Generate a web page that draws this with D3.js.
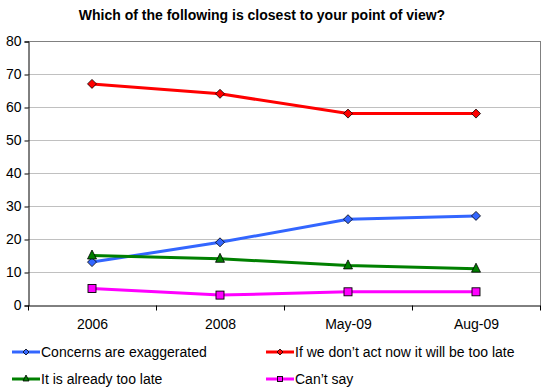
<!DOCTYPE html>
<html><head><meta charset="utf-8">
<script src="https://cdn.jsdelivr.net/npm/d3@7"></script>
<style>body{margin:0;background:#fff}svg text{font-family:Arial,"Liberation Sans",sans-serif}</style>
</head><body><svg id="c" width="547" height="390"></svg>
<script>
const categories = ["2006","2008","May-09","Aug-09"];
const concerns = [13,19,26,27];
const actNow = [67,64,58,58];
const tooLate = [15,14,12,11];
const cantSay = [5,3,4,4];
const yTicks = [0,10,20,30,40,50,60,70,80];
const seriesNames = ["Concerns are exaggerated","If we don\u2019t act now it will be too late","It is already too late","Can\u2019t say"];

const series = [
  {name:seriesNames[0], values:concerns, color:"#3366FF", marker:"diamond", mfill:"#3366FF"},
  {name:seriesNames[1], values:actNow, color:"#FF0000", marker:"diamond", mfill:"#FF0000"},
  {name:seriesNames[2], values:tooLate, color:"#008000", marker:"triangle", mfill:"#008000"},
  {name:seriesNames[3], values:cantSay, color:"#FF00FF", marker:"square", mfill:"#FF00FF"}
];

const svg = d3.select("#c");
const L=28, R=540, T=41, B=305;
const x = d3.scaleBand().domain(categories).range([L,R]);
const y = d3.scaleLinear().domain([0,80]).range([B,T]);

svg.append("text").attr("x",262).attr("y",20).attr("text-anchor","middle")
  .attr("font-weight","bold").attr("font-size","14px").text("Which of the following is closest to your point of view?");

// gridlines
svg.append("g").selectAll("line").data(yTicks.filter(d=>d>0)).join("line")
  .attr("x1",L).attr("x2",R).attr("y1",d=>y(d)+0.5).attr("y2",d=>y(d)+0.5)
  .attr("stroke",d=>d===80?"#808080":"#C0C0C0").attr("stroke-width",1);
svg.append("line").attr("x1",R+0.5).attr("x2",R+0.5).attr("y1",T).attr("y2",B).attr("stroke","#808080");

// y axis
const ya = svg.append("g").attr("transform",`translate(${L+0.5},0.5)`)
  .call(d3.axisLeft(y).tickValues(yTicks).tickSize(4).tickPadding(3));
ya.select(".domain").attr("stroke","#000");
ya.selectAll("text").attr("font-size","14px").attr("fill","#000").attr("font-family","Arial,'Liberation Sans',sans-serif");

// x axis
const xa = svg.append("g").attr("transform",`translate(0.5,${B+0.5})`)
  .call(d3.axisBottom(x).tickSize(0).tickPadding(14));
xa.select(".domain").attr("stroke","#000");
xa.selectAll("text").attr("font-size","14px").attr("fill","#000").attr("font-family","Arial,'Liberation Sans',sans-serif");
xa.selectAll(".tk").data(d3.range(categories.length+1)).join("line").attr("class","tk")
  .attr("x1",i=>L+i*x.step()).attr("x2",i=>L+i*x.step()).attr("y1",0).attr("y2",5).attr("stroke","#000");

function marker(g, type, fill, size){
  if(type==="diamond"){
    const s=size;
    g.append("path").attr("d",`M0,${-s}L${s},0L0,${s}L${-s},0Z`).attr("fill",fill).attr("stroke","#000").attr("stroke-width",0.8);
  } else if(type==="triangle"){
    const s=size;
    g.append("path").attr("d",`M0,${-s-1}L${s},${s-1}L${-s},${s-1}Z`).attr("fill",fill).attr("stroke","#000").attr("stroke-width",0.8);
  } else {
    const s=size-0.5;
    g.append("rect").attr("x",-s).attr("y",-s).attr("width",2*s).attr("height",2*s).attr("fill",fill).attr("stroke","#000").attr("stroke-width",0.9);
  }
}

const line = d3.line().x((d,i)=>x(categories[i])+x.bandwidth()/2).y(d=>y(d));
series.forEach(s=>{
  svg.append("path").attr("d",line(s.values)).attr("fill","none").attr("stroke",s.color).attr("stroke-width",3);
  s.values.forEach((v,i)=>{
    const g=svg.append("g").attr("transform",`translate(${x(categories[i])+x.bandwidth()/2},${y(v)})`);
    marker(g,s.marker,s.mfill,4.5);
  });
});

// legend
const legPos = [[12,352],[266,352],[12,379],[266,379]];
series.forEach((s,i)=>{
  const [lx,ly]=legPos[i];
  const g=svg.append("g").attr("transform",`translate(${lx},${ly})`);
  g.append("line").attr("x1",0).attr("x2",28).attr("y1",0).attr("y2",0).attr("stroke",s.color).attr("stroke-width",3);
  const mg=g.append("g").attr("transform","translate(14,0)");
  marker(mg,s.marker,s.mfill,3);
  g.append("text").attr("x",29).attr("y",5).attr("font-size","14px").attr("fill","#000").text(s.name);
});
</script></body></html>
